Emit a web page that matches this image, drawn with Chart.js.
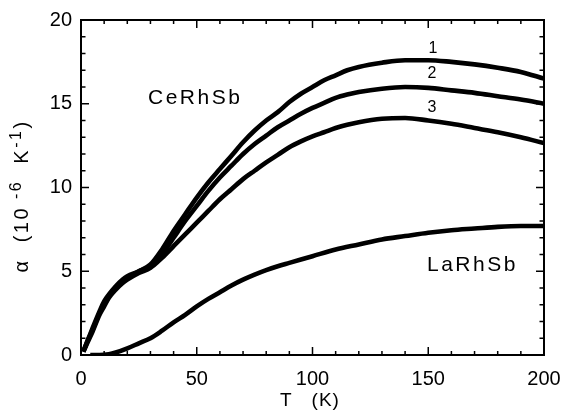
<!DOCTYPE html>
<html>
<head>
<meta charset="utf-8">
<script src="https://cdn.jsdelivr.net/npm/chart.js@4.4.1/dist/chart.umd.min.js"></script>
<style>
html,body{margin:0;padding:0;background:#fff;}
#wrap{width:563px;height:412px;position:relative;}
</style>
</head>
<body>
<div id="wrap"><canvas id="c" width="563" height="412"></canvas></div>
<script>
// Temperature (K) for the CeRhSb samples
const T_ce = [1,3,5,8,10,12,15,18,20,25,30,35,40,45,50,55,60,65,70,75,80,85,90,95,100,105,110,115,120,130,140,150,160,170,180,190,200];
// CeRhSb sample 1
const ce1 = [0.2,0.9,1.6,2.6,3.2,3.6,4.1,4.5,4.7,5.0,5.4,6.3,7.4,8.4,9.4,10.3,11.1,11.9,12.7,13.4,14.0,14.5,15.1,15.6,16.0,16.4,16.7,17.0,17.2,17.45,17.6,17.6,17.5,17.35,17.15,16.9,16.5];
// CeRhSb sample 2
const ce2 = [0.2,0.9,1.5,2.5,3.0,3.5,4.0,4.4,4.6,5.0,5.3,6.0,7.0,8.0,8.9,9.8,10.6,11.3,12.0,12.6,13.1,13.6,14.0,14.4,14.75,15.05,15.35,15.55,15.7,15.9,16.0,15.95,15.8,15.65,15.45,15.25,15.0];
// CeRhSb sample 3
const ce3 = [0.2,0.8,1.4,2.4,2.9,3.4,3.9,4.3,4.5,4.9,5.2,5.8,6.5,7.2,7.9,8.6,9.3,9.9,10.5,11.0,11.5,11.95,12.4,12.75,13.05,13.3,13.55,13.75,13.9,14.1,14.15,14.0,13.8,13.55,13.3,13.0,12.65];
// LaRhSb
const T_la = [4,8,12,15,20,25,30,35,40,45,50,55,60,65,70,75,80,85,90,95,100,110,120,130,140,150,160,170,180,190,200];
const la = [0,0,0.05,0.15,0.4,0.7,1.0,1.45,1.95,2.4,2.9,3.35,3.75,4.15,4.5,4.8,5.07,5.3,5.5,5.7,5.9,6.3,6.6,6.9,7.1,7.3,7.45,7.55,7.65,7.7,7.7];

const xTicks = [0,50,100,150,200];
const yTicks = [0,5,10,15,20];

const toPts = (xs, ys) => xs.map((x,i)=>({x:x,y:ys[i]}));
const FONT = 'Liberation Sans';

function lineDs(xs, ys){
  return {data: toPts(xs, ys), showLine:true, borderColor:'#000', borderWidth:4.6,
          pointRadius:0, cubicInterpolationMode:'monotone', fill:false};
}

function drawYTitle(ctx){
  const parts = [['\u03B1  (10',false],[' -6',true],['  K',false],['-1',true],[')',false]];
  ctx.save();
  ctx.translate(22, 196);
  ctx.rotate(-Math.PI/2);
  ctx.textBaseline = 'middle';
  ctx.textAlign = 'left';
  ctx.letterSpacing = '2.5px';
  let total = 0;
  const widths = parts.map(p=>{
    ctx.font = (p[1]?'16px ':'20px ') + FONT;
    const w = ctx.measureText(p[0]).width; total += w; return w;
  });
  let x = -total/2;
  parts.forEach((p,i)=>{
    ctx.font = (p[1]?'16px ':'20px ') + FONT;
    ctx.fillText(p[0], x, p[1]?-5:0);
    x += widths[i];
  });
  ctx.restore();
}

const framePlugin = {
  id:'frame',
  afterDraw(chart){
    const ctx = chart.ctx, a = chart.chartArea;
    const xs = chart.scales.x, ys = chart.scales.y;
    ctx.save();
    ctx.strokeStyle = '#000';
    ctx.lineWidth = 2;
    ctx.strokeRect(a.left, a.top, a.right-a.left, a.bottom-a.top);
    ctx.lineWidth = 1.5;
    ctx.beginPath();
    for(let v=10; v<200; v+=10){
      const px = xs.getPixelForValue(v);
      const L = (v%50===0)?8:4;
      ctx.moveTo(px, a.bottom); ctx.lineTo(px, a.bottom-L);
      ctx.moveTo(px, a.top); ctx.lineTo(px, a.top+L);
    }
    for(let v=1; v<20; v++){
      const py = ys.getPixelForValue(v);
      const L = (v%5===0)?8:4.5;
      ctx.moveTo(a.left, py); ctx.lineTo(a.left+L, py);
      ctx.moveTo(a.right, py); ctx.lineTo(a.right-L, py);
    }
    ctx.stroke();
    ctx.fillStyle = '#000';
    ctx.textAlign = 'center'; ctx.textBaseline = 'middle';
    ctx.font = '19px ' + FONT;
    ctx.letterSpacing = '1px';
    ctx.fillText('T   (K)', 310, 401);
    drawYTitle(ctx);
    ctx.font = '21px ' + FONT;
    ctx.letterSpacing = '2.5px';
    ctx.textAlign = 'left';
    ctx.fillText('CeRhSb', 148, 98);
    ctx.fillText('LaRhSb', 427, 265);
    ctx.letterSpacing = '0px';
    ctx.textAlign = 'center';
    ctx.font = '16px ' + FONT;
    ctx.fillText('1', 433, 49);
    ctx.fillText('2', 432, 74);
    ctx.fillText('3', 432, 108);
    ctx.restore();
  }
};

new Chart(document.getElementById('c'), {
  type:'scatter',
  data:{datasets:[lineDs(T_ce, ce1), lineDs(T_ce, ce2), lineDs(T_ce, ce3), lineDs(T_la, la)]},
  options:{
    responsive:false, animation:false,
    layout:{padding:{left:0,right:19,top:20,bottom:0}},
    plugins:{legend:{display:false}, tooltip:{enabled:false}},
    scales:{
      x:{type:'linear', min:0, max:200,
         afterBuildTicks(s){ s.ticks = xTicks.map(v=>({value:v})); },
         afterFit(s){ s.height = 57; s.paddingLeft = 0; s.paddingRight = 0; },
         grid:{display:false, drawTicks:false}, border:{display:false},
         ticks:{padding:12, color:'#000', font:{family:FONT, size:20}, maxRotation:0}},
      y:{type:'linear', min:0, max:20,
         afterBuildTicks(s){ s.ticks = yTicks.map(v=>({value:v})); },
         afterFit(s){ s.width = 81; s.paddingTop = 0; s.paddingBottom = 0; },
         grid:{display:false, drawTicks:false}, border:{display:false},
         ticks:{padding:9, color:'#000', font:{family:FONT, size:20}}}
    }
  },
  plugins:[framePlugin]
});
</script>
</body>
</html>
